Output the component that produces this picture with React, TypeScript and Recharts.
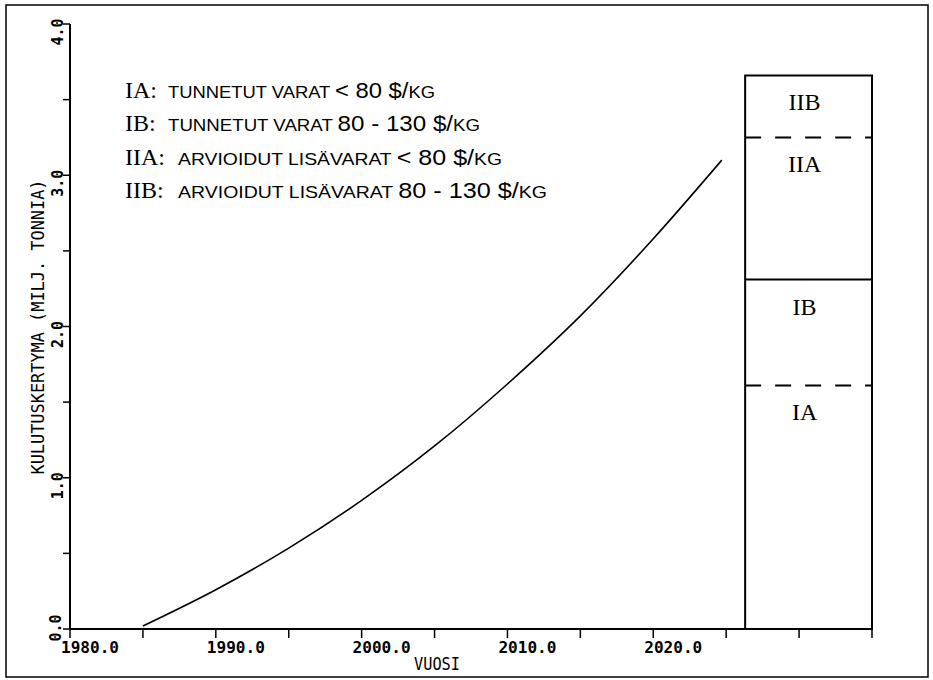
import React from 'react';
import { LineChart, Line, XAxis, YAxis, ReferenceArea, ReferenceLine } from 'recharts';

// Cumulative consumption curve (years, million tonnes)
const years = [1985, 1990, 1995, 2000, 2005, 2010, 2015, 2020, 2024.7];
const cumulative = [0.02, 0.26, 0.535, 0.85, 1.21, 1.62, 2.07, 2.58, 3.1];

// Axis ticks
const xTicks = [1980, 1985, 1990, 1995, 2000, 2005, 2010, 2015, 2020, 2025, 2030, 2035];
const xTickLabels = [1980, 1990, 2000, 2010, 2020];
const yTicks = [0, 0.5, 1, 1.5, 2, 2.5, 3, 3.5, 4];
const yTickLabels = [0, 1, 2, 3, 4];

// Reserve column
const reserveStart = 2026.3;
const reserveEnd = 2035;
const reserveNames = ['IA', 'IB', 'IIA', 'IIB'];
const reserveTops = [1.61, 2.31, 3.25, 3.66];
const reserveDashedAbove = [true, false, true, false];

// Legend
const legendCodes = ['IA:', 'IB:', 'IIA:', 'IIB:'];
const legendWords = ['TUNNETUT VARAT ', 'TUNNETUT VARAT ', 'ARVIOIDUT LISÄVARAT ', 'ARVIOIDUT LISÄVARAT '];
const legendPrices = ['< 80 $/', '80 - 130 $/', '< 80 $/', '80 - 130 $/'];
const legendUnit = 'KG';

const data = years.map((y, i) => ({ year: y, value: cumulative[i] }));

const MONO = '"DejaVu Sans Mono", "Liberation Mono", monospace';
const SERIF = '"Liberation Serif", "DejaVu Serif", serif';
const SANS = '"Liberation Sans", "DejaVu Sans", sans-serif';

const XTick = (props: any) => {
  const { x, y, payload } = props;
  if (!xTickLabels.includes(payload.value)) return null;
  return (
    <text x={x - 9} y={y + 13} fontFamily={MONO} fontSize={16} fontWeight="bold" fill="#000" textLength={58} lengthAdjust="spacingAndGlyphs">
      {payload.value.toFixed(1)}
    </text>
  );
};

const YTick = (props: any) => {
  const { y, payload } = props;
  if (!yTickLabels.includes(payload.value)) return null;
  const tx = payload.value === 0 ? 61 : 63;
  const ty = payload.value === 0 ? y - 1 : y + 8;
  return (
    <text
      x={tx}
      y={ty}
      transform={`rotate(-90, ${tx}, ${ty})`}
      textAnchor="middle"
      fontFamily={MONO}
      fontSize={16}
      fontWeight="bold"
      fill="#000"
      textLength={27}
      lengthAdjust="spacingAndGlyphs"
    >
      {payload.value.toFixed(1)}
    </text>
  );
};

const segLabel = (name: string) => (props: any) => {
  const vb = props.viewBox || {};
  return (
    <text
      x={vb.x + vb.width / 2 - 4}
      y={vb.y + 35}
      textAnchor="middle"
      fontFamily={SERIF}
      fontSize={24}
      fill="#000"
    >
      {name}
    </text>
  );
};

const legendLengths = [267, 312, 324, 369];
const legendStarts = [168, 168, 178, 178];

export default function App() {
  return (
    <div style={{ position: 'absolute', left: 0, top: 0, width: 933, height: 680, background: '#fff' }}>
      <LineChart width={933} height={680} data={data} margin={{ top: 24, right: 61, bottom: 21, left: 30 }}>
        <XAxis
          dataKey="year"
          type="number"
          domain={[1980, 2035]}
          ticks={xTicks}
          interval={0}
          height={30}
          tickSize={9}
          tick={<XTick />}
          tickLine={{ stroke: '#000', strokeWidth: 1.5 }}
          axisLine={{ stroke: '#000', strokeWidth: 2 }}
          allowDataOverflow
        />
        <YAxis
          type="number"
          domain={[0, 4]}
          ticks={yTicks}
          interval={0}
          width={40}
          tickSize={7}
          tick={<YTick />}
          tickLine={{ stroke: '#000', strokeWidth: 1.5 }}
          axisLine={{ stroke: '#000', strokeWidth: 2 }}
          allowDataOverflow
        />
        {reserveNames.map((name, i) => (
          <ReferenceArea
            key={name}
            x1={reserveStart}
            x2={reserveEnd}
            y1={i === 0 ? 0 : reserveTops[i - 1]}
            y2={reserveTops[i]}
            fill="none"
            fillOpacity={0}
            stroke="none"
            ifOverflow="visible"
            label={segLabel(name)}
          />
        ))}
        <ReferenceArea
          x1={reserveStart}
          x2={reserveEnd}
          y1={0}
          y2={reserveTops[reserveTops.length - 1]}
          fill="none"
          fillOpacity={0}
          stroke="#000"
          strokeWidth={2}
          strokeOpacity={1}
          ifOverflow="visible"
        />
        {reserveTops.slice(0, -1).map((t, i) => (
          <ReferenceLine
            key={'b' + i}
            segment={[
              { x: reserveStart, y: t },
              { x: reserveEnd, y: t },
            ]}
            stroke="#000"
            strokeWidth={2}
            strokeDasharray={reserveDashedAbove[i] ? '16 14' : undefined}
            ifOverflow="visible"
          />
        ))}
        <Line
          dataKey="value"
          type="monotone"
          stroke="#000"
          strokeWidth={1.6}
          dot={false}
          activeDot={false}
          isAnimationActive={false}
        />
      </LineChart>
      <svg
        width={933}
        height={680}
        style={{ position: 'absolute', left: 0, top: 0, pointerEvents: 'none' }}
      >
        <rect x={6} y={5} width={922} height={672} fill="none" stroke="#000" strokeWidth={1.5} />
        <text x={437} y={670} textAnchor="middle" fontFamily={MONO} fontSize={17} fill="#000" textLength={46} lengthAdjust="spacingAndGlyphs">
          VUOSI
        </text>
        <text
          x={44}
          y={327}
          transform="rotate(-90, 44, 327)"
          textAnchor="middle"
          fontFamily={MONO}
          fontSize={18}
          fill="#000"
          textLength={295}
          lengthAdjust="spacingAndGlyphs"
        >
          KULUTUSKERTYMA (MILJ. TONNIA)
        </text>
        {legendCodes.map((code, i) => {
          const base = 98 + i * 33.3;
          return (
            <g key={code}>
              <text x={125} y={base} fontFamily={SERIF} fontSize={24} fill="#000">
                {code}
              </text>
              <text
                x={legendStarts[i]}
                y={base}
                fontFamily={SANS}
                fill="#000"
                textLength={legendLengths[i]}
                lengthAdjust="spacingAndGlyphs"
              >
                <tspan fontSize={17}>{legendWords[i]}</tspan>
                <tspan fontSize={22}>{legendPrices[i]}</tspan>
                <tspan fontSize={17}>{legendUnit}</tspan>
              </text>
            </g>
          );
        })}
      </svg>
    </div>
  );
}
